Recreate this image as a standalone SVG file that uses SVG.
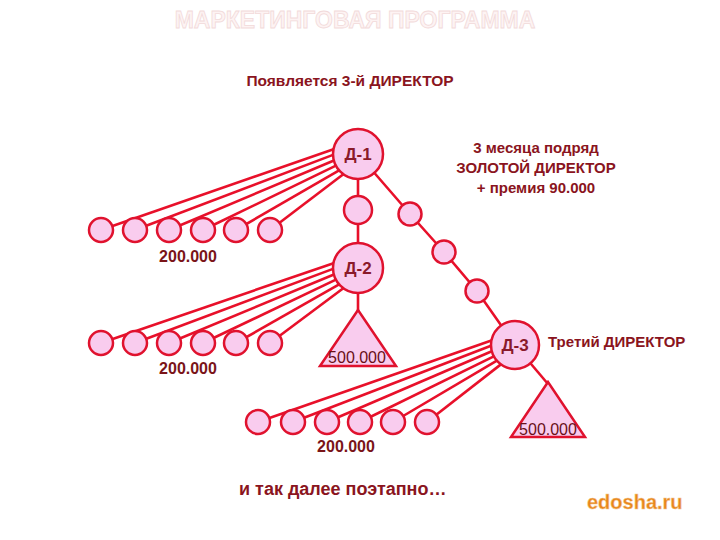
<svg xmlns="http://www.w3.org/2000/svg" width="720" height="540" viewBox="0 0 720 540">
<style>
.c{fill:#f9ccee;stroke:#e0122e;stroke-width:2.5}
.ln{stroke:#e8102a;stroke-width:2.6;fill:none}
.t{font-family:"Liberation Sans",Arial,sans-serif;font-weight:bold;fill:#8a1420}
.n{font-family:"Liberation Sans",Arial,sans-serif;font-weight:bold;fill:#8a1a2a;font-size:17px;text-anchor:middle}
.v{font-family:"Liberation Sans",Arial,sans-serif;font-weight:bold;fill:#7a1418;font-size:16px;text-anchor:middle}
.tri{font-family:"Liberation Sans",Arial,sans-serif;fill:#6a1018;font-size:16px;text-anchor:middle}
</style>
<rect width="720" height="540" fill="#ffffff"/>
<text x="355" y="28" text-anchor="middle" font-family="Liberation Sans,Arial,sans-serif" font-weight="bold" font-size="23" fill="#fdf3f3" stroke="#f2dada" stroke-width="0.8">МАРКЕТИНГОВАЯ ПРОГРАММА</text>
<text class="t" x="350" y="86" text-anchor="middle" font-size="15.5">Появляется 3-й ДИРЕКТОР</text>
<g id="connectors">
<line class="ln" x1="333.5" y1="149.2" x2="101" y2="230"/>
<line class="ln" x1="333" y1="154.9" x2="135" y2="230"/>
<line class="ln" x1="333.9" y1="160.5" x2="169" y2="230"/>
<line class="ln" x1="335.9" y1="165.7" x2="203" y2="230"/>
<line class="ln" x1="339.1" y1="170.4" x2="236" y2="230"/>
<line class="ln" x1="343.3" y1="174.2" x2="270" y2="230"/>
<line class="ln" x1="333.5" y1="263.2" x2="101" y2="343"/>
<line class="ln" x1="333" y1="268.9" x2="135" y2="343"/>
<line class="ln" x1="333.9" y1="274.5" x2="169" y2="343"/>
<line class="ln" x1="335.9" y1="279.7" x2="203" y2="343"/>
<line class="ln" x1="339.1" y1="284.4" x2="236" y2="343"/>
<line class="ln" x1="343.3" y1="288.2" x2="270" y2="343"/>
<line class="ln" x1="491.4" y1="340.4" x2="258" y2="422"/>
<line class="ln" x1="491" y1="345.8" x2="293" y2="422"/>
<line class="ln" x1="491.8" y1="351.2" x2="327" y2="422"/>
<line class="ln" x1="493.8" y1="356.3" x2="360" y2="422"/>
<line class="ln" x1="496.9" y1="360.7" x2="393" y2="422"/>
<line class="ln" x1="500.9" y1="364.4" x2="427" y2="422"/>
<line class="ln" x1="358" y1="154" x2="358" y2="312"/>
<polyline class="ln" points="358,154 410,214 444,252 477,291 515,345"/>
<line class="ln" x1="515" y1="345" x2="548" y2="384"/>
</g>
<g id="leaves1">
<circle class="c" cx="101" cy="230" r="12"/><circle class="c" cx="135" cy="230" r="12"/><circle class="c" cx="169" cy="230" r="12"/><circle class="c" cx="203" cy="230" r="12"/><circle class="c" cx="236" cy="230" r="12"/><circle class="c" cx="270" cy="230" r="12"/>
</g>
<g id="leaves2">
<circle class="c" cx="101" cy="343" r="12"/><circle class="c" cx="135" cy="343" r="12"/><circle class="c" cx="169" cy="343" r="12"/><circle class="c" cx="203" cy="343" r="12"/><circle class="c" cx="236" cy="343" r="12"/><circle class="c" cx="270" cy="343" r="12"/>
</g>
<g id="leaves3">
<circle class="c" cx="258" cy="422" r="12"/><circle class="c" cx="293" cy="422" r="12"/><circle class="c" cx="327" cy="422" r="12"/><circle class="c" cx="360" cy="422" r="12"/><circle class="c" cx="393" cy="422" r="12"/><circle class="c" cx="427" cy="422" r="12"/>
</g>
<g id="mid1"><circle class="c" cx="358" cy="210" r="14"/></g>
<g id="chain1"><circle class="c" cx="410" cy="214" r="11.5"/></g>
<g id="chain2"><circle class="c" cx="444" cy="252" r="11.5"/></g>
<g id="chain3"><circle class="c" cx="477" cy="291" r="11.5"/></g>
<g id="d1"><circle class="c" cx="358" cy="154" r="25"/><text class="n" x="358" y="160">Д-1</text></g>
<g id="d2"><circle class="c" cx="358" cy="268" r="25"/><text class="n" x="358" y="274">Д-2</text></g>
<g id="d3"><circle class="c" cx="515" cy="345" r="24"/><text class="n" x="515" y="351">Д-3</text></g>
<g id="tri2"><polygon class="c" points="358,310 320,366 396,366"/><text class="tri" x="357" y="363">500.000</text></g>
<g id="tri3"><polygon class="c" points="548,382 511,437 585,437"/><text class="tri" x="548" y="435">500.000</text></g>
<text class="v" x="188" y="262">200.000</text>
<text class="v" x="188" y="374">200.000</text>
<text class="v" x="346" y="452">200.000</text>
<text class="t" x="536" y="153" text-anchor="middle" font-size="15">3 месяца подряд</text>
<text class="t" x="536" y="173" text-anchor="middle" font-size="15">ЗОЛОТОЙ ДИРЕКТОР</text>
<text class="t" x="536" y="193" text-anchor="middle" font-size="15">+ премия 90.000</text>
<text class="t" x="548" y="347" font-size="15">Третий ДИРЕКТОР</text>
<text class="t" x="239" y="495" font-size="18" fill="#8a0c14">и так далее поэтапно…</text>
<text x="587" y="509" font-family="Liberation Sans,Arial,sans-serif" font-weight="bold" font-size="20" fill="#e8861c" stroke="#f4c890" stroke-width="0.5">edosha.ru</text>
</svg>
